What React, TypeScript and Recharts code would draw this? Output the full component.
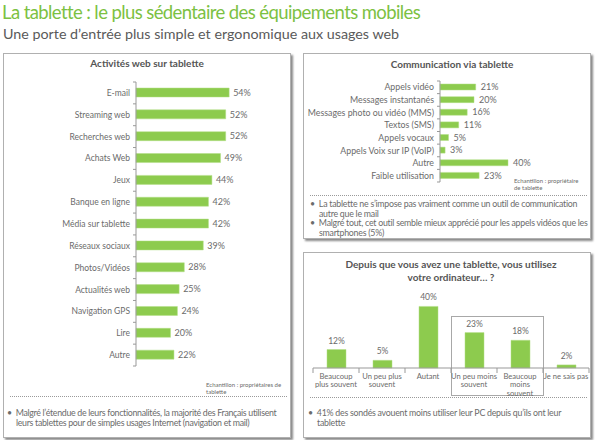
import React from "react";
import { BarChart, Bar, XAxis, YAxis, LabelList } from "recharts";

// Activités web sur tablette
const webCategories = [
  "E-mail",
  "Streaming web",
  "Recherches web",
  "Achats Web",
  "Jeux",
  "Banque en ligne",
  "Média sur tablette",
  "Réseaux sociaux",
  "Photos/Vidéos",
  "Actualités web",
  "Navigation GPS",
  "Lire",
  "Autre",
];
const webValues = [54, 52, 52, 49, 44, 42, 42, 39, 28, 25, 24, 20, 22];

// Communication via tablette
const commCategories = [
  "Appels vidéo",
  "Messages instantanés",
  "Messages photo ou vidéo (MMS)",
  "Textos (SMS)",
  "Appels vocaux",
  "Appels Voix sur IP (VoIP)",
  "Autre",
  "Faible utilisation",
];
const commValues = [21, 20, 16, 11, 5, 3, 40, 23];

// Depuis que vous avez une tablette...
const pcCategories = [
  "Beaucoup\nplus souvent",
  "Un peu plus\nsouvent",
  "Autant",
  "Un peu moins\nsouvent",
  "Beaucoup\nmoins\nsouvent",
  "Je ne sais pas",
];
const pcValues = [12, 5, 40, 23, 18, 2];

const webData = webCategories.map((name, i) => ({ name, value: webValues[i] }));
const commData = commCategories.map((name, i) => ({ name, value: commValues[i] }));
const pcData = pcCategories.map((name, i) => ({ name, value: pcValues[i] }));

const FONT = "Lato, 'Open Sans', sans-serif";
const GREEN = "#8dcb4e";
const GREEN_EDGE = "#b3df86";
const TEXT = "#6b6b6b";
const TITLE = "#555555";

const pct = (v: any) => `${v}%`;

// y-axis tick: label at the band centre, small marks at band edges
function BandTick(props: any) {
  const { x, y, payload, index, band, count, fontSize, gap } = props;
  const ax = x + gap;
  return (
    <g>
      <line x1={ax - 3} x2={ax} y1={y - band / 2} y2={y - band / 2} stroke="#999" />
      {index === count - 1 && (
        <line x1={ax - 3} x2={ax} y1={y + band / 2} y2={y + band / 2} stroke="#999" />
      )}
      <text x={x} y={y} dy="0.35em" textAnchor="end" fontSize={fontSize} fill={TEXT} fontFamily={FONT}>
        {payload.value}
      </text>
    </g>
  );
}

function ColumnTick(props: any) {
  const { x, y, payload, index, band, count } = props;
  const lines = String(payload.value).split("\n");
  const y0 = y - 4;
  return (
    <g>
      <line x1={x - band / 2} x2={x - band / 2} y1={y0} y2={y0 + 5} stroke="#999" />
      {index === count - 1 && (
        <line x1={x + band / 2} x2={x + band / 2} y1={y0} y2={y0 + 5} stroke="#999" />
      )}
      <text x={x} y={y0 + 10.5} textAnchor="middle" fontSize={7.6} fill={TEXT} fontFamily={FONT}>
        {lines.map((l, i) => (
          <tspan key={i} x={x} dy={i === 0 ? 0 : 8.6}>
            {l}
          </tspan>
        ))}
      </text>
    </g>
  );
}

const panel = (left: number, top: number, width: number, height: number): React.CSSProperties => ({
  position: "absolute",
  left,
  top,
  width,
  height,
  border: "1px solid #b0b0b0",
  boxShadow: "2px 2px 2px #8a8a8a",
  background: "#fff",
  boxSizing: "border-box",
});

const abs = (left: number, top: number, extra: React.CSSProperties = {}): React.CSSProperties => ({
  position: "absolute",
  left,
  top,
  ...extra,
});

const dotted = (left: number, top: number, width: number): React.CSSProperties => ({
  position: "absolute",
  left,
  top,
  width,
  borderTop: "1px dotted #9a9a9a",
});

const bullet: React.CSSProperties = {
  fontSize: 8.8,
  color: TEXT,
  lineHeight: "9.6px",
  paddingLeft: 9,
  textIndent: -9,
  letterSpacing: -0.25,
};

function Bullets({ items, style }: { items: string[]; style?: React.CSSProperties }) {
  return (
    <>
      {items.map((t, i) => (
        <div key={i} style={{ ...bullet, ...style }}>
          •&nbsp;&nbsp;{t}
        </div>
      ))}
    </>
  );
}

export default function App() {
  const webBand = 284 / webCategories.length;
  const commBand = 101 / commCategories.length;
  const pcBand = 276 / pcCategories.length;

  return (
    <div
      style={{
        position: "absolute",
        left: 0,
        top: 0,
        width: 595,
        height: 440,
        background: "#fff",
        fontFamily: FONT,
        overflow: "hidden",
      }}
    >
      <div
        style={abs(2, 1, {
          fontSize: 18.5,
          lineHeight: "22px",
          letterSpacing: -0.6,
          color: "#7cc142",
          whiteSpace: "nowrap",
        })}
      >
        La tablette : le plus sédentaire des équipements mobiles
      </div>
      <div style={abs(3, 25, { fontSize: 14.3, lineHeight: "17px", color: "#5a5a5a", whiteSpace: "nowrap" })}>
        Une porte d’entrée plus simple et ergonomique aux usages web
      </div>

      {/* panel 1 */}
      <div style={panel(3, 53, 288, 385)} />
      <div style={abs(3, 57, { width: 288, textAlign: "center", fontSize: 10, fontWeight: 700, color: TITLE })}>
        Activités web sur tablette
      </div>
      <div style={abs(0, 70)}>
        <BarChart
          width={290}
          height={310}
          data={webData}
          layout="vertical"
          margin={{ top: 12, right: 16, bottom: 14, left: 0 }}
        >
          <XAxis type="number" domain={[0, 80]} hide />
          <YAxis
            type="category"
            dataKey="name"
            width={136}
            axisLine={{ stroke: "#999" }}
            tickLine={false}
            tickSize={0}
            tickMargin={6}
            interval={0}
            tick={<BandTick band={webBand} count={webCategories.length} fontSize={8.5} gap={6} />}
          />
          <Bar dataKey="value" fill={GREEN} stroke={GREEN_EDGE} strokeWidth={0.5} barSize={9} isAnimationActive={false}>
            <LabelList dataKey="value" position="right" offset={4} formatter={pct} fontSize={9} fill={TEXT} fontFamily={FONT} />
          </Bar>
        </BarChart>
      </div>
      <div style={abs(206, 381, { fontSize: 6, color: TEXT, lineHeight: "7px", width: 82 })}>
        Echantillon : propriétaires de tablette
      </div>
      <div style={dotted(10, 396, 277)} />
      <div style={abs(7, 408, { width: 276 })}>
        <Bullets
          items={[
            "Malgré l’étendue de leurs fonctionnalités, la majorité des Français utilisent leurs tablettes pour de simples usages Internet (navigation et mail)",
          ]}
          style={{ fontSize: 8.8, letterSpacing: -0.3 }}
        />
      </div>

      {/* panel 2 */}
      <div style={panel(303, 53, 288, 186)} />
      <div style={abs(308, 58, { width: 288, textAlign: "center", fontSize: 10, fontWeight: 700, color: TITLE })}>
        Communication via tablette
      </div>
      <div style={abs(300, 71)}>
        <BarChart
          width={290}
          height={120}
          data={commData}
          layout="vertical"
          margin={{ top: 10, right: 14, bottom: 9, left: 0 }}
        >
          <XAxis type="number" domain={[0, 80]} hide />
          <YAxis
            type="category"
            dataKey="name"
            width={140}
            axisLine={{ stroke: "#999" }}
            tickLine={false}
            tickSize={0}
            tickMargin={6}
            interval={0}
            tick={<BandTick band={commBand} count={commCategories.length} fontSize={8.8} gap={6} />}
          />
          <Bar dataKey="value" fill={GREEN} stroke={GREEN_EDGE} strokeWidth={0.5} barSize={6} isAnimationActive={false}>
            <LabelList dataKey="value" position="right" offset={5} formatter={pct} fontSize={9} fill={TEXT} fontFamily={FONT} />
          </Bar>
        </BarChart>
      </div>
      <div style={abs(514, 177, { fontSize: 6, color: TEXT, lineHeight: "7px", width: 72 })}>
        Echantillon : propriétaire de tablette
      </div>
      <div style={dotted(310, 195, 277)} />
      <div style={abs(310, 199, { width: 278 })}>
        <Bullets
          items={[
            "La tablette ne s’impose pas vraiment comme un outil de communication autre que le mail",
            "Malgré tout, cet outil semble mieux apprécié pour les appels vidéos que les smartphones (5%)",
          ]}
        />
      </div>

      {/* panel 3 */}
      <div style={panel(303, 252, 288, 186)} />
      <div
        style={abs(307, 258, {
          width: 288,
          textAlign: "center",
          fontSize: 10,
          fontWeight: 700,
          color: TITLE,
          lineHeight: "12.5px",
        })}
      >
        Depuis que vous avez une tablette, vous utilisez
        <br />
        votre ordinateur… ?
      </div>
      <div style={abs(451, 316, { width: 93, height: 80, border: "1px solid #a8a8a8", boxSizing: "border-box" })} />
      <div style={abs(300, 280)}>
        <BarChart
          width={295}
          height={130}
          data={pcData}
          margin={{ top: 11, right: 6, bottom: 0, left: 13 }}
        >
          <XAxis
            dataKey="name"
            height={42}
            axisLine={{ stroke: "#999" }}
            tickLine={false}
            tickSize={0}
            tickMargin={4}
            interval={0}
            tick={<ColumnTick band={pcBand} count={pcCategories.length} />}
          />
          <YAxis type="number" domain={[0, 50]} hide />
          <Bar dataKey="value" fill={GREEN} stroke={GREEN_EDGE} strokeWidth={0.5} barSize={19} isAnimationActive={false}>
            <LabelList dataKey="value" position="top" offset={6} formatter={pct} fontSize={8.5} fill={TEXT} fontFamily={FONT} />
          </Bar>
        </BarChart>
      </div>
      <div style={dotted(310, 397, 277)} />
      <div style={abs(308, 408, { width: 266 })}>
        <Bullets items={["41% des sondés avouent moins utiliser leur PC depuis qu’ils ont leur tablette"]} />
      </div>
    </div>
  );
}
